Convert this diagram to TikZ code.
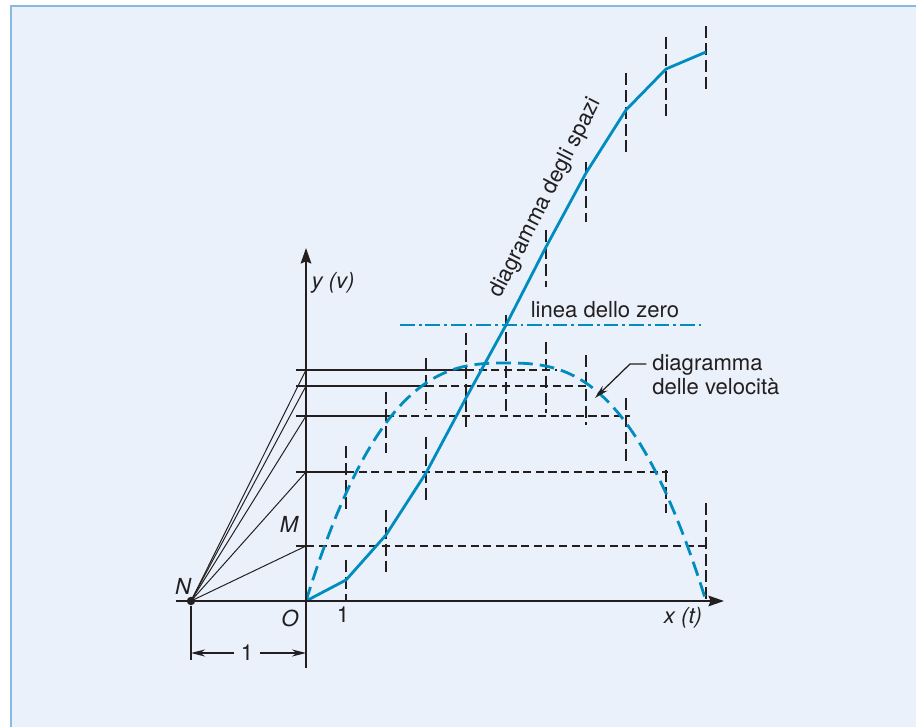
\documentclass[tikz,border=0pt]{standalone}
\usepackage{fontspec}
\setmainfont{TeX Gyre Heros}
\usetikzlibrary{arrows.meta, positioning, calc}
\definecolor{ink}{RGB}{35,31,32}
\definecolor{curve}{RGB}{0,140,190}
\definecolor{panel}{RGB}{234,241,250}
\definecolor{rim}{RGB}{135,185,225}

\begin{document}
\begin{tikzpicture}[
      x=0.025cm, y=-0.025cm,
      axis/.style={draw=ink, line width=1.5pt, -{Stealth[length=11pt, width=7.5pt, inset=1.5pt]}},
      thin/.style={draw=ink, line width=0.9pt},
      ray/.style={draw=ink, line width=0.7pt},
      hguide/.style={draw=ink, line width=0.9pt, dash pattern=on 5.7pt off 3.3pt},
      vguide/.style={draw=ink, line width=0.9pt, dash pattern=on 8.5pt off 3.5pt},
      vel/.style={draw=curve, line width=2pt, dash pattern=on 10.5pt off 5pt},
      spazi/.style={draw=curve, line width=2pt, line join=round},
      zero/.style={draw=curve, line width=1.2pt, dash pattern=on 10.5pt off 2.8pt on 2pt off 2.8pt},
      lbl/.style={text=ink, font=\fontsize{15.7}{17}\selectfont, inner sep=0pt},
      tip/.style={-{Stealth[length=10pt, width=5pt]}},
      dot/.style={circle, fill=ink, inner sep=0pt, minimum size=6pt}
    ]
    \useasboundingbox (0,0) rectangle (916,727);
    \fill[panel] (11,6) rectangle (916,727);
    \draw[rim, line width=1.4pt] (11,727) -- (11,6) -- (916,6);

    % points of the construction
    \coordinate (O) at (306,601);
    \coordinate (N) at (191,601);
    \coordinate (m1) at (306,546);
    \coordinate (m2) at (306,472);
    \coordinate (m3) at (306,416);
    \coordinate (m4) at (306,386);
    \coordinate (m5) at (306,370);

    % mean values carried across
    \draw[thin] (296,546) -- (m1);
    \draw[hguide] (m1) -- (710,546);
    \draw[thin] (296,472) -- (346,472);
    \draw[hguide] (346,472) -- (668,472);
    \draw[thin] (296,416) -- (386,416);
    \draw[hguide] (386,416) -- (630,416);
    \draw[thin] (296,386) -- (426,386);
    \draw[hguide] (426,386) -- (590,386);
    \draw[thin] (296,370) -- (466,370);
    \draw[hguide] (466,370) -- (557,370);

    % time steps
    \draw[vguide] (346,446) -- (346,513);
    \draw[vguide] (346,560) -- (346,600);
    \draw[vguide] (386,392) -- (386,453);
    \draw[vguide] (386,510) -- (386,572);
    \draw[vguide] (426,358) -- (426,410);
    \draw[vguide] (426,437) -- (426,500);
    \draw[vguide] (466,333) -- (466,427);
    \draw[vguide] (506,315) -- (506,413);
    \draw[vguide] (546,230) -- (546,287);
    \draw[vguide] (546,342) -- (546,413);
    \draw[vguide] (586,162) -- (586,222);
    \draw[vguide] (586,355) -- (586,425);
    \draw[vguide] (626,73) -- (626,155);
    \draw[vguide] (626,398) -- (626,462);
    \draw[vguide] (666,37) -- (666,117);
    \draw[vguide] (666,470) -- (666,513);
    \draw[vguide] (706,26) -- (706,90);
    \draw[vguide] (706,503) -- (706,600);

    % rays from the pole
    \draw[ray] (N) -- (m1);
    \draw[ray] (N) -- (m2);
    \draw[ray] (N) -- (m3);
    \draw[ray] (N) -- (m4);
    \draw[ray] (N) -- (m5);

    % zero line
    \coordinate (z0) at (400,325);
    \coordinate (z1) at (703,325);
    \draw[zero] (z0) -- (z1);

    % curves
    \draw[vel] plot[domain=-1:1, samples=80] ({506+200*\x}, {601-238*(1-abs(\x)^2.7)});
    \draw[spazi] (O) -- (346,580) -- (386,535) -- (426,473) -- (466,398) -- (506,325)
      -- (546,247) -- (586,173) -- (626,110) -- (666,69) -- (706,52);

    % axes
    \coordinate (xa) at (176,601);
    \coordinate (xb) at (724,601);
    \coordinate (ya) at (306,668);
    \coordinate (yb) at (306,248);
    \draw[axis] (xa) -- (xb);
    \draw[axis] (ya) -- (yb);
    \node[dot] (Nd) at (N) {};

    % unit length
    \draw[thin] (191,606) -- (191,660);
    \coordinate (dl) at (191,653);
    \coordinate (dr) at (306,653);
    \node[lbl, inner sep=5pt] (d1) at (247,653) {1};
    \draw[thin, tip] (d1) -- (dl);
    \draw[thin, tip] (d1) -- (dr);

    % labels
    \node[lbl] (Nl) at (183,586) {\itshape N};
    \node[lbl] (Ol) at (290,618) {\itshape O};
    \node[lbl] (Ml) at (289,524) {\itshape M};
    \node[lbl] (t1) at (343,615) {1};
    \node[lbl] (yl) at (333,283) {\itshape y (v)};
    \node[lbl] (xl) at (683,618) {\itshape x (t)};
    \node[lbl] (zl) at (605,310) {linea dello zero};
    \node[lbl, rotate=63] (sl) at (546,198) {diagramma degli spazi};
    \node[lbl, anchor=west, align=left] (vl) at (652,375) {diagramma\\delle velocità};
    \coordinate (vk) at (630,364);
    \coordinate (va) at (595,398);
    \draw[thin, tip] ([xshift=-4pt]vk -| vl.west) -- (vk) -- (va);
  \end{tikzpicture}
\end{document}
